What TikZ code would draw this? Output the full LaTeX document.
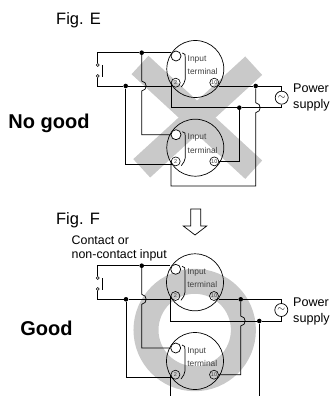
\documentclass[tikz,border=0pt]{standalone}
\usepackage{fontspec}
\setmainfont{Liberation Sans}
\usetikzlibrary{calc, positioning}
\definecolor{markgray}{HTML}{C9C9C9}
\definecolor{textgray}{HTML}{404040}
\tikzstyle{wire} = [draw, line width=0.7pt]
\tikzstyle{dot} = [circle, fill=black, inner sep=0pt, minimum size=4.6pt]
\begin{document}
\begin{tikzpicture}[x=1pt, y=-1pt, unit/.style={circle, draw, line width=0.7pt, minimum size=57pt, inner sep=0pt}, port/.style={circle, draw, line width=0.6pt, inner sep=0pt, minimum size=9pt, font=\fontsize{5.5}{5.5}\selectfont, text=textgray}, inport/.style={circle, draw, fill=white, line width=0.7pt, inner sep=0pt, minimum size=10pt}, small/.style={inner sep=0pt, font=\fontsize{8.4}{9}\selectfont, text=textgray}, side/.style={inner sep=0pt, font=\fontsize{12.6}{16}\selectfont, align=left}, contact/.style={circle, draw, fill=white, line width=0.6pt, inner sep=0pt, minimum size=3pt}, source/.style={circle, draw, fill=white, line width=0.7pt, inner sep=0pt, minimum size=13pt, font=\fontsize{10}{10}\selectfont}, figlabel/.style={inner sep=0pt, font=\fontsize{16.5}{18}\selectfont}, verdict/.style={inner sep=0pt, font=\fontsize{20}{22}\bfseries}]

    \tikzset{hop/.style={to path={.. controls +(6,1) and +(6,-1) .. (\tikztotarget)}}}

    \useasboundingbox (0,0) rectangle (331,396);

    % gray marks go first
    \draw[markgray, line width=25pt] (140,65) -- (253.7,169.7);
    \draw[markgray, line width=25pt] (253.7,65.7) -- (141.7,168.3);
    \draw[markgray, line width=25pt] (194.7,330) circle (48.7);

    \foreach \u/\x/\y in {a/195.3/69, b/195.3/147.7, c/195/282.3, d/195/361}{
      \node[unit] (\u) at (\x,\y) {};
      \node[inport] (\u-in) at ($(\u)+(-19.3,-13)$) {};
      \node[port] (\u-2) at ($(\u)+(-19.6,13.7)$) {2};
      \node[port] (\u-10) at ($(\u)+(19,13.7)$) {10};
      \node[small, anchor=west] (\u-txa) at ($(\u)+(-7.8,-10)$) {Input};
      \node[small, anchor=west] (\u-txb) at ($(\u)+(-7.8,2.5)$) {terminal};
      \draw[line width=0.7pt] ($(\u)+(-13,-16)$) .. controls +(3,0) and +(0,-3) .. ($(\u)+(-10,-11)$) -- ($(\u)+(-10,10)$) .. controls +(0,3) and +(2,-3) .. ($(\u)+(-14,18)$);
    }

    % Fig. E
    \node[figlabel] (fige) at (78.5,20) {Fig. E};
    \node[verdict] (nogood) at (49,123.5) {No good};
    \node[side, anchor=west] (powe) at (293,97) {Power\\supply};
    \node[contact] (ec1) at (97.7,65) {};
    \node[contact] (ec2) at (97.7,76) {};
    \draw[line width=0.8pt] (102.7,65) -- (102.7,76.5);
    \node[dot] (e1) at (141.7,52.7) {};
    \node[dot] (e2) at (125.7,86) {};
    \node[dot] (e3) at (255.7,86) {};
    \node[dot] (e4) at (239.3,107.7) {};
    \node[source] (eac) at (281.7,97.7) {$\sim$};

    \draw[wire] (ec1) |- (e1) -- (e1 -| a-in.west);
    \draw[wire] (ec2) |- (e2) -- (a-2.west |- e2);
    \draw[wire] (e1) -- ($(e1 |- e2)+(0,-5)$) to[hop] ($(e1 |- e2)+(0,5)$) |- (b-in.west);
    \draw[wire] (a-10.east |- e3) -- (e3) -| (eac);
    \draw[wire] (eac) |- (e4) -| (a-2.west);
    \draw[wire] (e3) -- ($(e3 |- e4)+(0,-5)$) to[hop] ($(e3 |- e4)+(0,5)$) -- (255.7,186) -| (b-2.west);
    \draw[wire] (e2) |- (171.7,164.3);
    \draw[wire] (e4) |- (b-10.east);

    % arrow between the figures
    \draw[line width=0.7pt, fill=white] (190.7,209) -- (200.7,209) -- (200.7,226) -- (206.7,226) -- (195,235) -- (183.3,226) -- (190.7,226) -- cycle;

    % Fig. F
    \node[figlabel] (figf) at (78,220) {Fig. F};
    \node[verdict] (good) at (46.5,328) {Good};
    \node[side, anchor=west] (powf) at (293,311.5) {Power\\supply};
    \node[side, anchor=west, font=\fontsize{12.4}{14.7}\selectfont] (conf) at (71.5,248.5) {Contact or\\non-contact input};
    \node[contact] (fc1) at (97.7,278) {};
    \node[contact] (fc2) at (97.7,289) {};
    \draw[line width=0.8pt] (102.7,278) -- (102.7,289.5);
    \node[dot] (f1) at (141.7,265.7) {};
    \node[dot] (f2) at (126,299.3) {};
    \node[dot] (f3) at (240.7,299.3) {};
    \node[dot] (f4) at (259.3,321) {};
    \node[source] (fac) at (281.3,310) {$\sim$};
    \coordinate (fbot) at (0,396);

    \draw[wire] (fc1) |- (f1) -- (f1 -| c-in.west);
    \draw[wire] (fc2) |- (f2) -- (c-2.west |- f2);
    \draw[wire] (f1) -- ($(f1 |- f2)+(0,-5)$) to[hop] ($(f1 |- f2)+(0,5)$) |- (d-in.west);
    \draw[wire] (c-10.east |- f3) -- (f3) -| (fac);
    \draw[wire] (fac) |- (f4) -| (c-2.west);
    \draw[wire] (f3) -- ($(f3 |- f4)+(0,-5)$) to[hop] ($(f3 |- f4)+(0,5)$) |- (d-10.east);
    \draw[wire] (f2) |- (171.7,377.3);
    \draw[wire] (d-2.west) -- (d-2.west |- fbot);
    \draw[wire] (f4) -- (f4 |- fbot);

\end{tikzpicture}
\end{document}
